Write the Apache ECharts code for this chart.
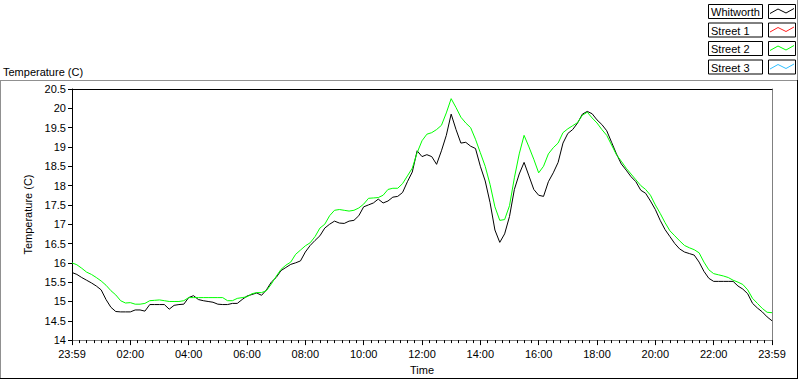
<!DOCTYPE html>
<html>
<head>
<meta charset="utf-8">
<title>Temperature (C)</title>
<script src="https://cdn.jsdelivr.net/npm/echarts@6/dist/echarts.min.js"></script>
<style>
html, body { margin: 0; padding: 0; background: #fff; }
#tempChart { width: 800px; height: 380px; }
</style>
</head>
<body>
<div id="tempChart"></div>
<script>
// one sample every 10 minutes, starting 23:59
const stepMinutes = 10
const seriesNames = ['Whitworth', 'Street 1', 'Street 2', 'Street 3']
const seriesColors = ['#000000', '#ff2020', '#00ff00', '#30c0ff']

const whitworth = [
  15.75, 15.70, 15.62, 15.55, 15.48, 15.40, 15.30, 15.05, 14.85, 14.74, 14.73, 14.73,
  14.73, 14.78, 14.78, 14.75, 14.92, 14.92, 14.92, 14.92, 14.80, 14.90, 14.92, 14.93,
  15.10, 15.15, 15.05, 15.02, 15.00, 14.98, 14.93, 14.92, 14.92, 14.95, 14.95, 15.05,
  15.14, 15.18, 15.22, 15.16, 15.30, 15.50, 15.62, 15.80, 15.88, 15.96, 16.00, 16.05,
  16.28, 16.45, 16.58, 16.70, 16.90, 17.00, 17.08, 17.03, 17.02, 17.08, 17.10, 17.22,
  17.45, 17.50, 17.55, 17.65, 17.55, 17.60, 17.70, 17.72, 17.82, 18.10, 18.35, 18.90,
  18.75, 18.80, 18.75, 18.55, 18.90, 19.30, 19.85, 19.45, 19.10, 19.12, 19.02, 18.96,
  18.50, 18.12, 17.56, 16.85, 16.53, 16.75, 17.20, 17.90, 18.30, 18.60, 18.25, 17.90,
  17.75, 17.72, 18.10, 18.33, 18.60, 19.10, 19.35, 19.45, 19.62, 19.85, 19.92, 19.86,
  19.70, 19.58, 19.42, 19.12, 18.82, 18.56, 18.40, 18.23, 18.10, 17.88, 17.80, 17.60,
  17.38, 17.10, 16.86, 16.68, 16.50, 16.36, 16.28, 16.24, 16.20, 16.02, 15.78, 15.60,
  15.52, 15.52, 15.52, 15.52, 15.52, 15.40, 15.32, 15.20, 14.95, 14.83, 14.73, 14.60,
  14.50
]
const street1 = []
const street2 = [
  16.00, 15.95, 15.86, 15.76, 15.70, 15.62, 15.53, 15.42, 15.28, 15.17, 15.02, 14.96,
  14.97, 14.93, 14.93, 14.95, 15.02, 15.03, 15.04, 15.02, 15.00, 15.00, 15.00, 15.02,
  15.10, 15.10, 15.10, 15.10, 15.10, 15.10, 15.10, 15.10, 15.02, 15.02, 15.08, 15.10,
  15.12, 15.20, 15.23, 15.23, 15.28, 15.45, 15.65, 15.83, 15.94, 16.02, 16.22, 16.33,
  16.44, 16.52, 16.68, 16.90, 17.00, 17.22, 17.36, 17.38, 17.36, 17.34, 17.36, 17.42,
  17.52, 17.67, 17.68, 17.69, 17.75, 17.90, 17.93, 17.93, 18.05, 18.25, 18.45, 18.85,
  19.16, 19.33, 19.37, 19.45, 19.56, 19.88, 20.25, 20.02, 19.77, 19.62, 19.50, 19.20,
  18.85, 18.50, 18.03, 17.45, 17.10, 17.12, 17.48, 18.20, 18.82, 19.30, 19.00, 18.68,
  18.33, 18.50, 18.82, 18.98, 19.10, 19.37, 19.47, 19.55, 19.63, 19.82, 19.90, 19.75,
  19.62, 19.45, 19.30, 19.05, 18.80, 18.63, 18.45, 18.30, 18.15, 18.00, 17.90, 17.75,
  17.50, 17.28, 17.04, 16.83, 16.70, 16.57, 16.45, 16.39, 16.34, 16.26, 16.02, 15.82,
  15.72, 15.69, 15.66, 15.62, 15.55, 15.50, 15.44, 15.30, 15.08, 14.95, 14.82, 14.72,
  14.71
]
const street3 = []

const times = whitworth.map((v, i) => i * stepMinutes)
const seriesData = [whitworth, street1, street2, street3]

const font = 'Liberation Sans, Arial, sans-serif'

function timeLabel(v) {
  if (v === 0 || v === 1440) return '23:59'
  let h = Math.round(v / 60)
  return (h < 10 ? '0' + h : '' + h) + ':00'
}

function legendGraphics() {
  let items = []
  // legend panel edge
  items.push({ type: 'line', shape: { x1: 797.5, y1: 0, x2: 797.5, y2: 80 }, style: { stroke: '#909090', lineWidth: 1 } })
  seriesNames.forEach((name, i) => {
    let top = 4.5 + i * 18.5
    items.push({ type: 'rect', shape: { x: 708.5, y: top, width: 54, height: 14 }, style: { fill: '#fff', stroke: '#000', lineWidth: 1 } })
    items.push({ type: 'text', x: 711, y: top + 7.5, style: { text: name, fill: '#000', font: '11px ' + font, verticalAlign: 'middle' } })
    items.push({ type: 'rect', shape: { x: 768.5, y: top, width: 27, height: 14 }, style: { fill: '#fff', stroke: '#000', lineWidth: 1 } })
    items.push({
      type: 'polyline',
      shape: { points: [[770, top + 9], [778, top + 4.5], [786, top + 8.5], [794, top + 4]] },
      style: { stroke: seriesColors[i], lineWidth: 1, fill: null }
    })
  })
  // outer panel frame
  items.push({ type: 'line', shape: { x1: 0, y1: 80.5, x2: 798, y2: 80.5 }, style: { stroke: '#909090', lineWidth: 1 } })
  items.push({ type: 'line', shape: { x1: 0.5, y1: 80, x2: 0.5, y2: 379 }, style: { stroke: '#909090', lineWidth: 1 } })
  items.push({ type: 'line', shape: { x1: 0, y1: 378.5, x2: 798, y2: 378.5 }, style: { stroke: '#000', lineWidth: 1 } })
  items.push({ type: 'line', shape: { x1: 797.5, y1: 80, x2: 797.5, y2: 379 }, style: { stroke: '#000', lineWidth: 1 } })
  return items
}

let myChart = echarts.init(document.getElementById('tempChart'), null, { renderer: 'svg' })
let options = {
  animation: false,
  backgroundColor: '#fff',
  textStyle: { fontFamily: font },
  title: {
    text: 'Temperature (C)',
    left: 3,
    top: 66,
    padding: 0,
    textStyle: { fontSize: 11, fontWeight: 'normal', color: '#000', fontFamily: font }
  },
  grid: { left: 72, right: 28, top: 89, bottom: 39 },
  xAxis: [
    {
      type: 'value',
      min: 0,
      max: 1440,
      interval: 120,
      name: 'Time',
      nameLocation: 'middle',
      nameGap: 23,
      nameTextStyle: { fontSize: 11, color: '#000', fontFamily: font },
      axisLine: { onZero: false, lineStyle: { color: '#808080', width: 1 } },
      axisTick: { length: 5, lineStyle: { color: '#000' } },
      minorTick: { show: true, splitNumber: 8, length: 3, lineStyle: { color: '#000' } },
      axisLabel: { formatter: timeLabel, fontSize: 11, color: '#000', margin: 8, fontFamily: font },
      splitLine: { show: false }
    },
    {
      type: 'value',
      min: 0,
      max: 1440,
      position: 'top',
      axisLine: { onZero: false, lineStyle: { color: '#000', width: 1 } },
      axisTick: { show: false },
      axisLabel: { show: false },
      splitLine: { show: false }
    }
  ],
  yAxis: [
    {
      type: 'value',
      min: 14,
      max: 20.5,
      interval: 0.5,
      name: 'Temperature (C)',
      nameLocation: 'middle',
      nameRotate: 90,
      nameGap: 34,
      nameTextStyle: { fontSize: 11, color: '#000', fontFamily: font },
      axisLine: { show: true, onZero: false, lineStyle: { color: '#000', width: 1 } },
      axisTick: { show: true, length: 4, lineStyle: { color: '#000' } },
      axisLabel: { fontSize: 11, color: '#000', margin: 6, fontFamily: font },
      splitLine: { show: false }
    },
    {
      type: 'value',
      min: 14,
      max: 20.5,
      position: 'right',
      axisLine: { show: true, onZero: false, lineStyle: { color: '#808080', width: 1 } },
      axisTick: { show: false },
      axisLabel: { show: false },
      splitLine: { show: false }
    }
  ],
  graphic: legendGraphics(),
  series: seriesNames.map((name, i) => ({
    name: name,
    type: 'line',
    xAxisIndex: 0,
    yAxisIndex: 0,
    showSymbol: false,
    symbol: 'none',
    lineStyle: { color: seriesColors[i], width: 1 },
    itemStyle: { color: seriesColors[i] },
    data: seriesData[i].map((v, j) => [times[j], v])
  }))
}
myChart.setOption(options)
</script>
</body>
</html>
